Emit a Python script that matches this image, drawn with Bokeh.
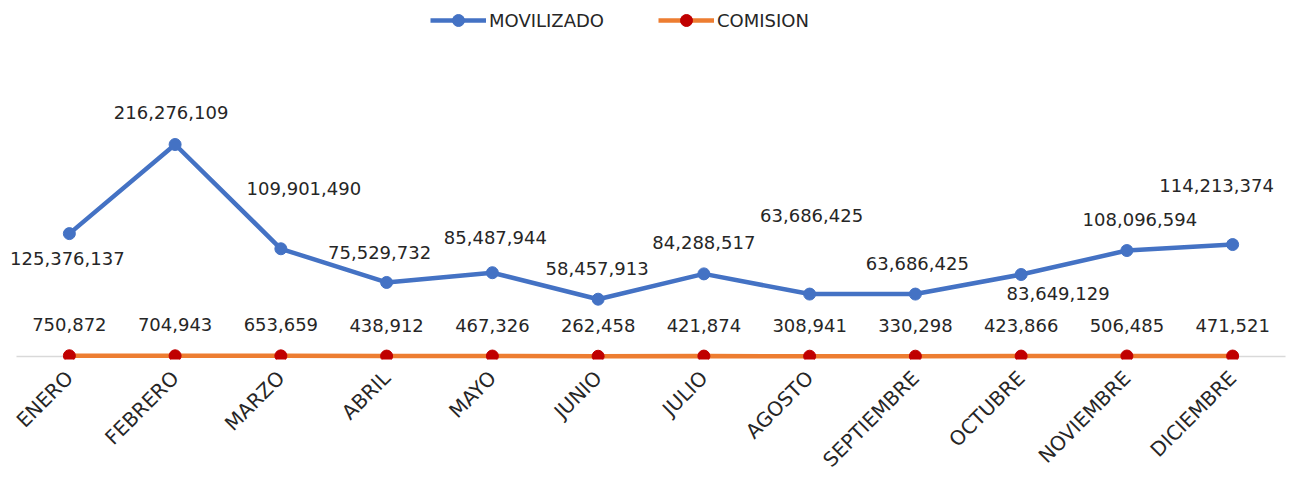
import math
from bokeh.plotting import figure
from bokeh.models import ColumnDataSource, Legend, LegendItem, FactorRange, Range1d, LabelSet
from bokeh.core.properties import value
from bokeh.transform import dodge
from bokeh.embed import file_html
from bokeh.resources import INLINE

months = ["ENERO", "FEBRERO", "MARZO", "ABRIL", "MAYO", "JUNIO", "JULIO",
          "AGOSTO", "SEPTIEMBRE", "OCTUBRE", "NOVIEMBRE", "DICIEMBRE"]
movilizado = [125376137, 216276109, 109901490, 75529732, 85487944, 58457913,
              84288517, 63686425, 63686425, 83649129, 108096594, 114213374]
comision = [750872, 704943, 653659, 438912, 467326, 262458,
            421874, 308941, 330298, 423866, 506485, 471521]

# label placement (screen px offsets from the point; positive = up)
mov_dx = [-2, -4, 23, -7, 3, -1, 0, 2, 2, 37, 13, -16]
mov_dy = [-25, 32, 60, 30, 35, 31, 31, 79, 31, -19, 31, 59]
com_dx = [0] * 12
com_dy = [31] * 12

FONT = "DejaVu Sans"
TXT = "#262626"
BLUE = "#4472C4"
ORANGE = "#ED7D31"
RED = "#C00000"

src = ColumnDataSource(dict(
    m=months, mov=movilizado, com=comision,
    mov_lbl=[f"{v:,}" for v in movilizado],
    com_lbl=[f"{v:,}" for v in comision],
    mdx=mov_dx, mdy=mov_dy, cdx=com_dx, cdy=com_dy,
))

p = figure(x_range=FactorRange(*months, range_padding=0.0756, range_padding_units="absolute"),
           y_range=Range1d(-3.06e6, 363.2e6),
           width=1293, height=485, output_backend="svg", toolbar_location=None,
           y_axis_location=None,
           min_border_left=8, min_border_right=0, min_border_top=0, min_border_bottom=126)
p.outline_line_color = None
p.xgrid.grid_line_color = None
p.ygrid.grid_line_color = None
p.background_fill_color = "white"
p.border_fill_color = "white"

# category axis line at zero, spanning the category band
axsrc = ColumnDataSource(dict(x0=[months[0]], x1=[months[-1]], y=[0]))
p.segment(x0=dodge("x0", -0.5, range=p.x_range), x1=dodge("x1", 0.5, range=p.x_range),
          y0="y", y1="y", source=axsrc, line_color="#d9d9d9", line_width=1.5)

l1 = p.line("m", "mov", source=src, line_color=BLUE, line_width=4.5)
s1 = p.scatter("m", "mov", source=src, size=12, fill_color=BLUE, line_color=BLUE)
l2 = p.line("m", "com", source=src, line_color=ORANGE, line_width=4.5)
s2 = p.scatter("m", "com", source=src, size=12, fill_color=RED, line_color=RED)

p.add_layout(LabelSet(x="m", y="mov", text="mov_lbl", source=src,
                      x_offset="mdx", y_offset="mdy",
                      text_align="center", text_baseline="middle", text_font=value(FONT),
                      text_font_size="18px", text_color=TXT))
p.add_layout(LabelSet(x="m", y="com", text="com_lbl", source=src,
                      x_offset="cdx", y_offset="cdy",
                      text_align="center", text_baseline="middle", text_font=value(FONT),
                      text_font_size="18px", text_color=TXT))

ax = p.xaxis[0]
ax.axis_line_color = None
ax.major_tick_line_color = None
ax.minor_tick_line_color = None
ax.major_tick_out = 0
ax.major_tick_in = 0
ax.major_label_standoff = 15
ax.major_label_orientation = math.pi / 4
ax.major_label_text_font = FONT
ax.major_label_text_font_size = "20px"
ax.major_label_text_color = TXT

legend = Legend(items=[LegendItem(label="MOVILIZADO", renderers=[l1, s1]),
                       LegendItem(label="COMISION", renderers=[l2, s2])],
                orientation="horizontal", location=(422, 324),
                glyph_width=56, glyph_height=30, label_standoff=3, spacing=54,
                padding=0, margin=0, border_line_color=None,
                background_fill_alpha=0,
                label_text_font=FONT, label_text_font_size="18px", label_text_color=TXT)
p.add_layout(legend)

open("out.html", "w").write(file_html(p, INLINE))
